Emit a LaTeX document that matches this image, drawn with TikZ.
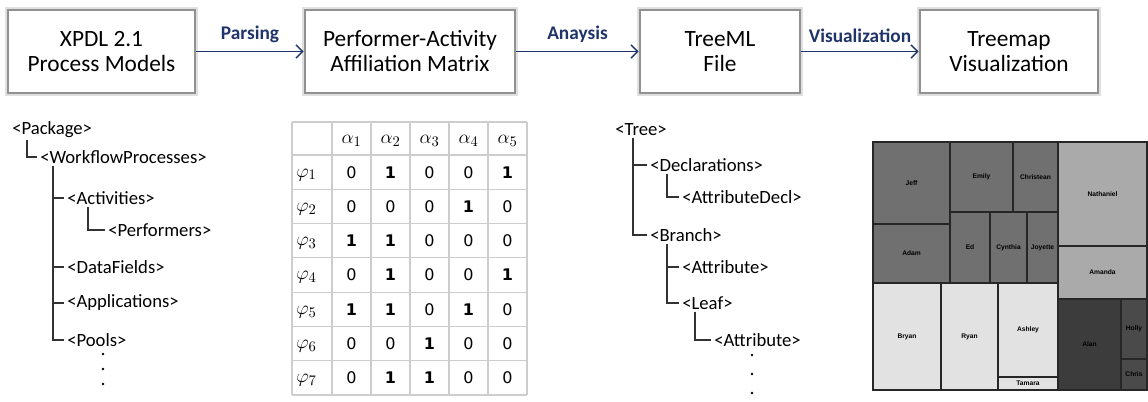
\documentclass[tikz,border=0pt]{standalone}
\usepackage{fontspec}
\setmainfont{Carlito}
\newfontfamily\tabfont{DejaVu Sans}
\newfontfamily\mapfont{Liberation Sans}
\usetikzlibrary{arrows.meta,calc,positioning}

\definecolor{flowblue}{RGB}{31,52,105}
\definecolor{boxgray}{RGB}{145,145,145}
\definecolor{gridgray}{RGB}{205,205,205}
\definecolor{mapdark}{RGB}{112,112,112}
\definecolor{mapmid}{RGB}{170,170,170}
\definecolor{maplight}{RGB}{226,226,226}
\definecolor{mapblack}{RGB}{60,60,60}
\definecolor{mapblack2}{RGB}{74,74,74}
\definecolor{mapline}{RGB}{38,38,38}

\newcommand\onebit{\textbf{1}}
\newcommand\tmcell[6]{\draw[tmline, fill=#5] (#1,#2) rectangle (#3,#4);
  \node[tmlabel] at ($(#1,#2)!.5!(#3,#4)$) {#6};}

\tikzset{
  stage/.style={draw=boxgray, line width=2.2pt, fill=white, align=center,
    inner sep=0pt, minimum height=83*0.75pt,
    preaction={draw=black!12, line width=4pt},
    font=\fontsize{17.5}{18.75}\selectfont},
  flow/.style={draw=flowblue, line width=1pt, -{Straight Barb[length=5pt,width=10pt]}},
  flowlbl/.style={text=flowblue, font=\bfseries\fontsize{14.5}{16}\selectfont, above=3pt},
  tag/.style={anchor=west, inner sep=0pt, font=\fontsize{14}{15}\selectfont},
  treeline/.style={line width=1.1pt, draw=black!80, shorten >=2.5pt},
  gridline/.style={draw=gridgray, line width=.8pt},
  cell/.style={inner sep=0pt, font=\tabfont\fontsize{12}{14}\selectfont},
  greek/.style={inner sep=0pt, font=\fontsize{15}{16}\selectfont},
  tmline/.style={draw=mapline, line width=1.1pt},
  tmlabel/.style={inner sep=0pt, font=\mapfont\bfseries\fontsize{5}{6}\selectfont}
}

\begin{document}
\begin{tikzpicture}[x=0.75pt,y=-0.75pt]
  %%%%% START %%%%%
  \useasboundingbox (0,0) rectangle (1148,402);

  % process chain
  \node[stage, minimum width=187*0.75pt] (xpdl) at (101.5,51.5) {XPDL 2.1\\Process Models};
  \node[stage, minimum width=210*0.75pt] (matrix) at (410,51.5) {Performer-Activity\\Affiliation Matrix};
  \node[stage, minimum width=160*0.75pt] (treeml) at (720,51.5) {TreeML\\File};
  \node[stage, minimum width=178*0.75pt] (tmapbox) at (1009,51.5) {Treemap\\Visualization};

  \draw[flow] (xpdl) -- node[flowlbl] {Parsing} (matrix);
  \draw[flow] (matrix) -- node[flowlbl] {Anaysis} (treeml);
  \draw[flow] (treeml) -- node[flowlbl] {Visualization} (tmapbox);

  % XPDL tree
  \node[tag] (pkg) at (12,130) {<Package>};
  \node[tag] (wf) at (40,157) {<WorkflowProcesses>};
  \node[tag] (act) at (67,198) {<Activities>};
  \node[tag] (perf) at (108,230) {<Performers>};
  \node[tag] (data) at (67,267) {<DataFields>};
  \node[tag] (appl) at (67,303) {<Applications>};
  \node[tag] (pools) at (67,340) {<Pools>};

  \draw[treeline] ($(pkg.south west)+(15,2)$) |- (wf.west);
  \coordinate (wfspine) at ($(wf.south west)+(13,2)$);
  \draw[treeline] (wfspine) |- (pools.west);
  \foreach \n in {act,data,appl}
    \draw[treeline] (wfspine |- \n.west) -- (\n.west);
  \draw[treeline] ($(act.south west)+(21,2)$) |- (perf.west);

  \fill (103,354) circle (1.3);
  \fill (103,369) circle (1.3);
  \fill (103,384) circle (1.3);

  % affiliation matrix
  \foreach \x in {292,332,371,410,449,488,527}
    \draw[gridline] (\x,122) -- (\x,395);
  \draw[gridline] (292,122) -- (527,122);
  \foreach \r in {0,...,7}
    \draw[gridline] (292,155+34.29*\r) -- (527,155+34.29*\r);

  \foreach \c in {1,...,5}
    \node[greek] (a\c) at (332+39*\c-19.5,141) {$\alpha_{\c}$};
  \foreach \row [count=\r] in {{0,\onebit,0,0,\onebit},{0,0,0,\onebit,0},{\onebit,\onebit,0,0,0},
      {0,\onebit,0,0,\onebit},{\onebit,\onebit,0,\onebit,0},{0,0,\onebit,0,0},{0,\onebit,\onebit,0,0}}{
    \node[greek, anchor=west] (phi\r) at (296,155+34.29*\r-14.5) {$\varphi_{\r}$};
    \foreach \v [count=\c] in \row
      \node[cell] (m\r\c) at (332+39*\c-19.5,155+34.29*\r-17.1) {\v};
  }

  % TreeML tree
  \node[tag] (tree) at (615,130) {<Tree>};
  \node[tag] (decl) at (650,165) {<Declarations>};
  \node[tag] (adecl) at (682,197) {<AttributeDecl>};
  \node[tag] (branch) at (650,235) {<Branch>};
  \node[tag] (attr) at (682,267) {<Attribute>};
  \node[tag] (leaf) at (682,303) {<Leaf>};
  \node[tag] (lattr) at (714,340) {<Attribute>};

  \coordinate (treespine) at ($(tree.south west)+(18,2)$);
  \draw[treeline] (treespine) |- (branch.west);
  \draw[treeline] (treespine |- decl.west) -- (decl.west);
  \draw[treeline] ($(decl.south west)+(17,2)$) |- (adecl.west);
  \coordinate (branchspine) at ($(branch.south west)+(17,2)$);
  \draw[treeline] (branchspine) |- (leaf.west);
  \draw[treeline] (branchspine |- attr.west) -- (attr.west);
  \draw[treeline] ($(leaf.south west)+(13,2)$) |- (lattr.west);

  \fill (752,355) circle (1.3);
  \fill (752,374) circle (1.3);
  \fill (752,393) circle (1.3);

  % treemap
  \tmcell{873}{142}{950}{224}{mapdark}{Jeff}
  \tmcell{873}{224}{950}{283}{mapdark}{Adam}
  \tmcell{950}{142}{1013}{212}{mapdark}{Emily}
  \tmcell{1013}{142}{1058}{212}{mapdark}{Christean}
  \tmcell{950}{212}{990}{283}{mapdark}{Ed}
  \tmcell{990}{212}{1027}{283}{mapdark}{Cynthia}
  \tmcell{1027}{212}{1058}{283}{mapdark}{Joyette}
  \tmcell{1058}{142}{1147}{246}{mapmid}{Nathaniel}
  \tmcell{1058}{246}{1147}{299}{mapmid}{Amanda}
  \tmcell{873}{283}{941}{390}{maplight}{Bryan}
  \tmcell{941}{283}{998}{390}{maplight}{Ryan}
  \tmcell{998}{283}{1058}{377}{maplight}{Ashley}
  \tmcell{998}{377}{1058}{390}{maplight}{Tamara}
  \tmcell{1058}{299}{1121}{390}{mapblack}{Alan}
  \tmcell{1121}{299}{1147}{359}{mapblack2}{Holly}
  \tmcell{1121}{359}{1147}{390}{mapblack2}{Chris}

  %%%%% END %%%%%
\end{tikzpicture}
\end{document}
